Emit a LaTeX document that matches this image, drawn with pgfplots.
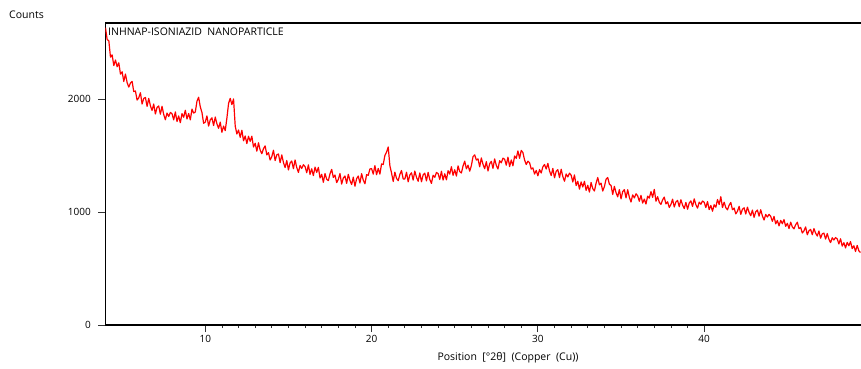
\documentclass[border=0pt]{standalone}
\usepackage{fontspec}
\setmainfont{Open Sans}
\usepackage{pgfplots}
\pgfplotsset{compat=1.18}
\begin{document}
\fontsize{10.5}{12}\selectfont
\begin{tikzpicture}[x=1pt,y=1pt]
\useasboundingbox (-105.5,-44) rectangle (755.5,325);
\begin{axis}[
  at={(0,0)}, anchor=south west,
  scale only axis, width=755pt, height=302pt,
  xmin=4, xmax=49.4, ymin=0, ymax=2672,
  axis x line*=box, axis y line*=left,
  xtick pos=left, ytick pos=left,
  xtick={10,20,30,40}, minor x tick num=9,
  ytick={0,1000,2000},
  tick align=outside,
  major tick length=7pt, minor tick length=3pt,
  axis line style={line width=1.2pt, black},
  tick style={black!80, line width=0.8pt},
  /pgf/number format/assume math mode=true,
  /pgf/number format/set thousands separator={},
  tick label style={font=\fontsize{10}{12}\selectfont},
  yticklabel style={xshift=-4pt},
]
% XRD pattern, Cu K-alpha
\addplot[red, line width=1.2pt, line join=round] coordinates {
(4.0,2630) (4.1,2525) (4.2,2515) (4.3,2370) (4.4,2390) (4.5,2295) (4.6,2345) (4.7,2285) (4.8,2320) (4.9,2220)
(5.0,2240) (5.1,2155) (5.2,2220) (5.3,2145) (5.4,2105) (5.5,2140) (5.6,2155) (5.7,2065) (5.8,2070) (5.9,1990)
(6.0,2010) (6.1,2055) (6.2,1955) (6.3,2005) (6.4,2013) (6.5,1935) (6.6,2005) (6.7,1940) (6.8,1898) (6.9,1955)
(7.0,1867) (7.1,1925) (7.2,1938) (7.3,1865) (7.4,1935) (7.5,1863) (7.6,1816) (7.7,1875) (7.8,1845) (7.9,1880)
(8.0,1870) (8.1,1815) (8.2,1885) (8.3,1800) (8.4,1850) (8.5,1790) (8.6,1870) (8.7,1838) (8.8,1900) (8.9,1823)
(9.0,1871) (9.1,1815) (9.2,1910) (9.3,1875) (9.4,1885) (9.5,1980) (9.6,2015) (9.7,1930) (9.8,1880) (9.9,1785)
(10.0,1795) (10.1,1850) (10.2,1760) (10.3,1815) (10.4,1833) (10.5,1765) (10.6,1840) (10.7,1780) (10.8,1740) (10.9,1795)
(11.0,1705) (11.1,1760) (11.2,1720) (11.3,1830) (11.4,1960) (11.5,2005) (11.6,1950) (11.7,2000) (11.8,1760) (11.9,1690)
(12.0,1725) (12.1,1660) (12.2,1723) (12.3,1630) (12.4,1672) (12.5,1605) (12.6,1670) (12.7,1625) (12.8,1670) (12.9,1575)
(13.0,1608) (13.1,1538) (13.2,1612) (13.3,1547) (13.4,1516) (13.5,1560) (13.6,1585) (13.7,1505) (13.8,1525) (13.9,1460)
(14.0,1490) (14.1,1546) (14.2,1455) (14.3,1505) (14.4,1513) (14.5,1436) (14.6,1505) (14.7,1438) (14.8,1393) (14.9,1455)
(15.0,1372) (15.1,1434) (15.2,1451) (15.3,1383) (15.4,1460) (15.5,1393) (15.6,1350) (15.7,1412) (15.8,1385) (15.9,1418)
(16.0,1402) (16.1,1347) (16.2,1417) (16.3,1332) (16.4,1382) (16.5,1322) (16.6,1397) (16.7,1350) (16.8,1395) (16.9,1300)
(17.0,1333) (17.1,1263) (17.2,1340) (17.3,1290) (17.4,1277) (17.5,1338) (17.6,1377) (17.7,1305) (17.8,1327) (17.9,1260)
(18.0,1288) (18.1,1340) (18.2,1247) (18.3,1301) (18.4,1318) (18.5,1253) (18.6,1333) (18.7,1278) (18.8,1243) (18.9,1308)
(19.0,1228) (19.1,1295) (19.2,1318) (19.3,1256) (19.4,1339) (19.5,1282) (19.6,1250) (19.7,1330) (19.8,1325) (19.9,1380)
(20.0,1384) (20.1,1335) (20.2,1410) (20.3,1330) (20.4,1385) (20.5,1335) (20.6,1425) (20.7,1420) (20.8,1500) (20.9,1530)
(21.0,1575) (21.1,1410) (21.2,1345) (21.3,1270) (21.4,1352) (21.5,1297) (21.6,1277) (21.7,1332) (21.8,1367) (21.9,1292)
(22.0,1292) (22.1,1352) (22.2,1267) (22.3,1327) (22.4,1347) (22.5,1282) (22.6,1362) (22.7,1307) (22.8,1272) (22.9,1345)
(23.0,1267) (23.1,1328) (23.2,1344) (23.3,1275) (23.4,1351) (23.5,1287) (23.6,1253) (23.7,1325) (23.8,1307) (23.9,1349)
(24.0,1340) (24.1,1287) (24.2,1360) (24.3,1282) (24.4,1338) (24.5,1284) (24.6,1365) (24.7,1335) (24.8,1400) (24.9,1324)
(25.0,1374) (25.1,1318) (25.2,1408) (25.3,1357) (25.4,1345) (25.5,1407) (25.6,1450) (25.7,1382) (25.8,1414) (25.9,1361)
(26.0,1410) (26.1,1490) (26.2,1505) (26.3,1460) (26.4,1470) (26.5,1400) (26.6,1478) (26.7,1421) (26.8,1383) (26.9,1445)
(27.0,1363) (27.1,1426) (27.2,1448) (27.3,1386) (27.4,1469) (27.5,1412) (27.6,1380) (27.7,1454) (27.8,1435) (27.9,1476)
(28.0,1467) (28.1,1414) (28.2,1485) (28.3,1402) (28.4,1460) (28.5,1408) (28.6,1495) (28.7,1475) (28.8,1540) (28.9,1475)
(29.0,1545) (29.1,1525) (29.2,1460) (29.3,1420) (29.4,1450) (29.5,1436) (29.6,1380) (29.7,1390) (29.8,1335) (29.9,1368)
(30.0,1320) (30.1,1375) (30.2,1345) (30.3,1400) (30.4,1420) (30.5,1380) (30.6,1430) (30.7,1363) (30.8,1323) (30.9,1385)
(31.0,1302) (31.1,1360) (31.2,1375) (31.3,1304) (31.4,1378) (31.5,1313) (31.6,1272) (31.7,1336) (31.8,1310) (31.9,1343)
(32.0,1326) (32.1,1265) (32.2,1328) (32.3,1233) (32.4,1272) (32.5,1202) (32.6,1266) (32.7,1221) (32.8,1271) (32.9,1191)
(33.0,1236) (33.1,1176) (33.2,1261) (33.3,1206) (33.4,1186) (33.5,1255) (33.6,1305) (33.7,1240) (33.8,1255) (33.9,1185)
(34.0,1225) (34.1,1290) (34.2,1305) (34.3,1245) (34.4,1235) (34.5,1155) (34.6,1227) (34.7,1171) (34.8,1134) (34.9,1198)
(35.0,1116) (35.1,1180) (35.2,1198) (35.3,1125) (35.4,1197) (35.5,1130) (35.6,1088) (35.7,1151) (35.8,1124) (35.9,1161)
(36.0,1143) (36.1,1095) (36.2,1147) (36.3,1079) (36.4,1114) (36.5,1070) (36.6,1140) (36.7,1122) (36.8,1180) (36.9,1130)
(37.0,1200) (37.1,1095) (37.2,1135) (37.3,1086) (37.4,1067) (37.5,1107) (37.6,1132) (37.7,1071) (37.8,1090) (37.9,1040)
(38.0,1066) (38.1,1113) (38.2,1044) (38.3,1089) (38.4,1102) (38.5,1047) (38.6,1108) (38.7,1061) (38.8,1030) (38.9,1085)
(39.0,1024) (39.1,1079) (39.2,1098) (39.3,1049) (39.4,1116) (39.5,1065) (39.6,1034) (39.7,1087) (39.8,1068) (39.9,1097)
(40.0,1086) (40.1,1039) (40.2,1092) (40.3,1021) (40.4,1058) (40.5,1007) (40.6,1064) (40.7,1042) (40.8,1110) (40.9,1066)
(41.0,1135) (41.1,1039) (41.2,1087) (41.3,1038) (41.4,1019) (41.5,1060) (41.6,1084) (41.7,1020) (41.8,1035) (41.9,983)
(42.0,1006) (42.1,1050) (42.2,979) (42.3,1024) (42.4,1037) (42.5,982) (42.6,1043) (42.7,996) (42.8,967) (42.9,1017)
(43.0,952) (43.1,1002) (43.2,1017) (43.3,963) (43.4,1020) (43.5,965) (43.6,929) (43.7,978) (43.8,955) (43.9,979)
(44.0,962) (44.1,917) (44.2,961) (44.3,895) (44.4,925) (44.5,877) (44.6,925) (44.7,896) (44.8,933) (44.9,873)
(45.0,900) (45.1,853) (45.2,910) (45.3,868) (45.4,851) (45.5,887) (45.6,909) (45.7,853) (45.8,864) (45.9,814)
(46.0,833) (46.1,868) (46.2,798) (46.3,834) (46.4,846) (46.5,799) (46.6,853) (46.7,813) (46.8,787) (46.9,832)
(47.0,768) (47.1,807) (47.2,813) (47.3,760) (47.4,809) (47.5,759) (47.6,729) (47.7,772) (47.8,752) (47.9,774)
(48.0,761) (48.1,717) (48.2,763) (48.3,698) (48.4,729) (48.5,682) (48.6,731) (48.7,701) (48.8,738) (48.9,676)
(49.0,701) (49.1,651) (49.2,704) (49.3,657) (49.4,640)
};
\end{axis}
\node[anchor=west, inner sep=0pt] at (-96.5,310) {Counts};
\node[anchor=west, inner sep=0pt] at (2.5,293) {INHNAP-ISONIAZID\ \ NANOPARTICLE};
\node[inner sep=0pt] at (402.5,-33) {Position\ \ [°2θ]\ \ (Copper\ \ (Cu))};
\end{tikzpicture}
\end{document}
